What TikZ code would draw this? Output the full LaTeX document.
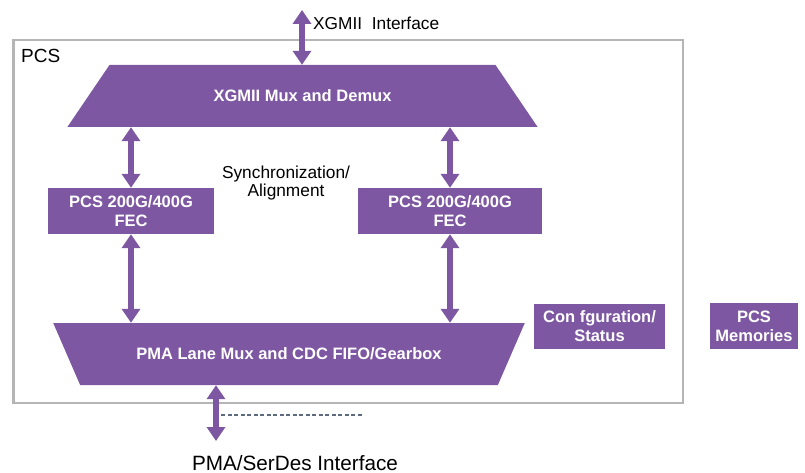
\documentclass[tikz,border=0pt]{standalone}
\usepackage{fontspec}
\setmainfont{Liberation Sans}
\usetikzlibrary{arrows.meta, shapes.geometric}
\definecolor{pcspurple}{HTML}{7E57A2}
\definecolor{pcsgray}{HTML}{B5B5B5}
\definecolor{dashgray}{HTML}{5E6A7E}

\begin{document}
\begin{tikzpicture}[x=1pt, y=-1pt,
  block/.style={fill=pcspurple, text=white, font=\fontsize{16.5}{19}\selectfont\bfseries, align=center, inner sep=0pt},
  muxblock/.style={block, trapezium, trapezium angle=32, trapezium stretches=true, minimum height=62pt},
  biarrow/.style={draw=pcspurple, line width=6pt, {Triangle[width=18pt,length=14pt]}-{Triangle[width=18pt,length=14pt]}},
  plain/.style={font=\fontsize{17.3}{18.5}\selectfont, align=center, inner sep=0pt}]
\useasboundingbox (0,0) rectangle (805,473);
\draw [pcsgray, line width=2.7pt] (13.5,40) rectangle (683,403);
\node [plain, font=\fontsize{19}{20}\selectfont, anchor=base west] (pcs) at (21,62.5) {PCS};
\node [muxblock, minimum width=471pt] (mux) at (302.5,96) {XGMII Mux and Demux};
\node [muxblock, minimum width=472pt, shape border rotate=180] (pma) at (289,354) {PMA Lane Mux and CDC FIFO/Gearbox};
\node [block, minimum width=166pt, minimum height=46pt] (fecl) at (131,211) {PCS 200G/400G\\FEC};
\node [block, minimum width=184pt, minimum height=46pt] (fecr) at (450,211) {PCS 200G/400G\\FEC};
\node [block, minimum width=131pt, minimum height=45pt] (cfg) at (599.5,326.5) {Con fguration/\\Status};
\node [block, minimum width=88pt, minimum height=46pt] (mem) at (754,326) {PCS\\Memories};
\node [plain] (sync) at (286,183) {Synchronization/\\Alignment};
\coordinate (xgmiitop) at (302,10);
\node [plain, anchor=base west] (xgmiilbl) at (313,30) {XGMII\ \ Interface};
\coordinate (serdesend) at (216,441);
\node [plain, font=\fontsize{20.7}{22}\selectfont, anchor=base] (serdeslbl) at (295,470) {PMA/SerDes Interface};
\coordinate (dashstart) at (221,415);
\coordinate (dashend) at (362,415);
\draw [biarrow] (xgmiitop) -- (xgmiitop |- mux.north);
\draw [biarrow] (mux.south -| fecl) -- (fecl.north);
\draw [biarrow] (mux.south -| fecr) -- (fecr.north);
\draw [biarrow] (fecl.south) -- (fecl.south |- pma.north);
\draw [biarrow] (fecr.south) -- (fecr.south |- pma.north);
\draw [biarrow] (pma.south -| serdesend) -- (serdesend);
\draw [dashgray, line width=1.2pt, dash pattern=on 4pt off 2.5pt] (dashstart) -- (dashend);
\end{tikzpicture}
\end{document}
